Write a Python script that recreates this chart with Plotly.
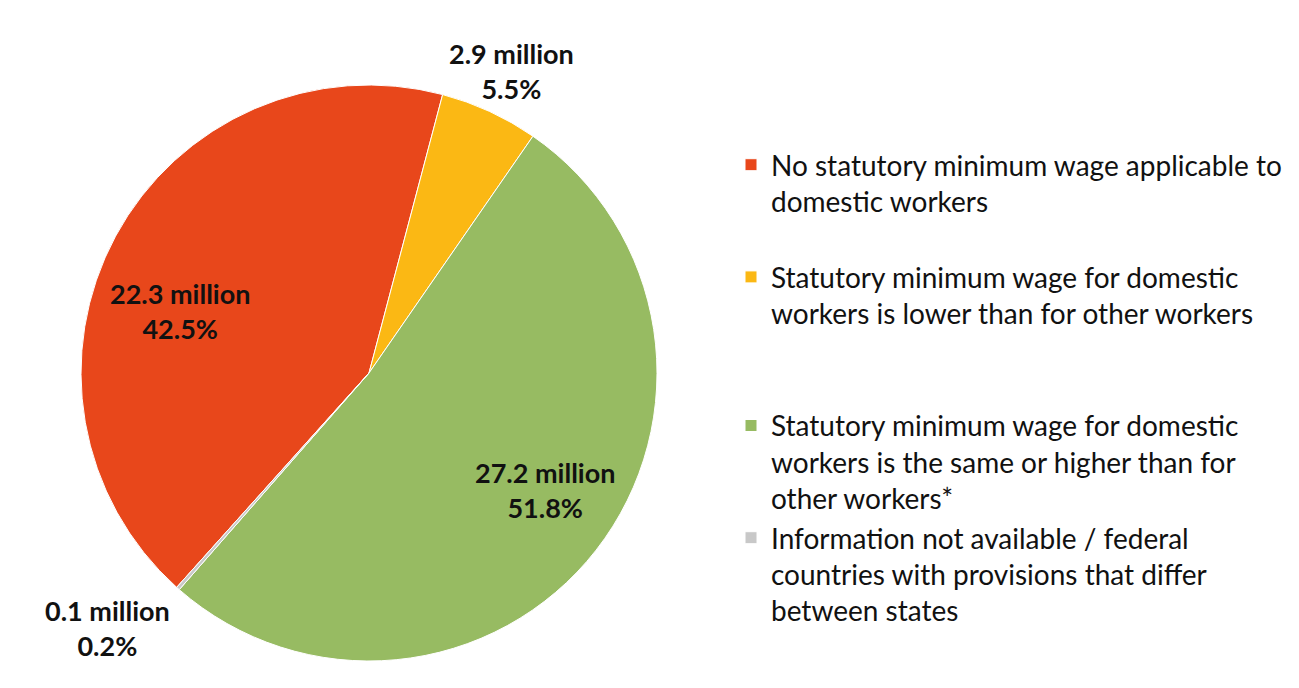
import plotly.graph_objects as go

categories = [
    "No statutory minimum wage applicable to<br>domestic workers",
    "Statutory minimum wage for domestic<br>workers is lower than for other workers",
    "Statutory minimum wage for domestic<br>workers is the same or higher than for<br>other workers*",
    "Information not available / federal<br>countries with provisions that differ<br>between states",
]
values_million = [22.3, 2.9, 27.2, 0.1]
percent_labels = ["42.5%", "5.5%", "51.8%", "0.2%"]
colors = ["#E8471B", "#FBB814", "#97BB62", "#C8C8C8"]

# blank padding lines so legend entries are spaced roughly like the original
pad = [1, 2, 0, 0]
legend_text = [c + "<br>&nbsp;" * p for c, p in zip(categories, pad)]

# label anchor positions (pixel centres of the label blocks)
label_pos = [(180, 311), (512, 71), (545, 490), (108, 628)]

W, H = 1299, 688
cx, cy, r = 369, 373, 288

fig = go.Figure(go.Pie(
    labels=legend_text,
    values=values_million,
    marker=dict(colors=colors, line=dict(color="white", width=1)),
    sort=False,
    direction="clockwise",
    rotation=221.9,
    textinfo="none",
    hoverinfo="label+value+percent",
    domain=dict(x=[(cx - r) / W, (cx + r) / W], y=[(H - cy - r) / H, (H - cy + r) / H]),
))

for v, p, (x, y) in zip(values_million, percent_labels, label_pos):
    fig.add_annotation(
        x=x / W, y=1 - y / H, xref="paper", yref="paper",
        text=f"<b>{v} million<br>{p}</b>", showarrow=False,
        font=dict(family="Lato", size=27, color="#111111"),
        xanchor="center", yanchor="middle", align="center",
    )

fig.update_layout(
    width=W, height=H,
    margin=dict(l=0, r=0, t=0, b=0),
    paper_bgcolor="white", plot_bgcolor="white",
    showlegend=True,
    legend=dict(
        x=731 / W, y=1 - 140 / H, xanchor="left", yanchor="top",
        font=dict(family="Lato", size=28, color="#111111"),
        valign="top", bgcolor="rgba(0,0,0,0)", borderwidth=0,
    ),
)

fig.write_html(
    "out.html",
    config={"displayModeBar": False},
    post_script="document.body.style.margin='0px';",
)
